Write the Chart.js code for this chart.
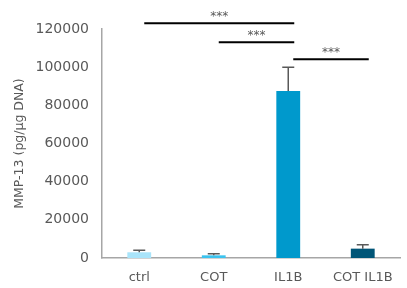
<!DOCTYPE html>
<html>
<head>
<meta charset="utf-8">
<script src="https://cdn.jsdelivr.net/npm/chart.js@4.4.0/dist/chart.umd.min.js"></script>
<style>
  html, body { margin: 0; padding: 0; background: #fff; }
  #wrap { width: 407px; height: 288px; }
</style>
</head>
<body>
<div id="wrap"><canvas id="chart" width="407" height="288"></canvas></div>
<script>
// Data
const groups = ['ctrl', 'COT', 'IL1B', 'COT IL1B'];
const means = [3000, 1400, 87500, 4900];
const errors = [1000, 800, 12500, 2100];
const barColors = ['#a9e4fa', '#3bc3ef', '#0099cc', '#005577'];
const yTicks = [0, 20000, 40000, 60000, 80000, 100000, 120000];

// significance brackets: from group, to group, height (axis units), label
const sigFrom = [0, 1, 2];
const sigTo = [2, 2, 3];
const sigHeight = [123000, 113000, 104100];
const sigLabel = ['***', '***', '***'];

const textGrey = '#595959';
const axisGrey = '#a6a6a6';
const fontFamily = '"DejaVu Sans", sans-serif';

// error bars, upward only
const errorBarPlugin = {
  id: 'errorBars',
  afterDatasetsDraw(chart) {
    const ctx = chart.ctx;
    const yScale = chart.scales.y;
    const meta = chart.getDatasetMeta(0);
    ctx.save();
    ctx.strokeStyle = textGrey;
    ctx.lineWidth = 1.5;
    meta.data.forEach((bar, i) => {
      const yTop = yScale.getPixelForValue(means[i] + errors[i]);
      const yBase = yScale.getPixelForValue(means[i]);
      ctx.beginPath();
      ctx.moveTo(bar.x, yBase);
      ctx.lineTo(bar.x, yTop);
      ctx.moveTo(bar.x - 6, yTop);
      ctx.lineTo(bar.x + 6, yTop);
      ctx.stroke();
    });
    ctx.restore();
  }
};

// significance lines with stars
const sigPlugin = {
  id: 'sigLines',
  afterDraw(chart) {
    const ctx = chart.ctx;
    const xScale = chart.scales.x;
    const yScale = chart.scales.y;
    ctx.save();
    sigFrom.forEach((f, i) => {
      const x1 = xScale.getPixelForValue(f) + 5;
      const x2 = xScale.getPixelForValue(sigTo[i]) + 6;
      const y = yScale.getPixelForValue(sigHeight[i]);
      ctx.strokeStyle = '#000';
      ctx.lineWidth = 2;
      ctx.beginPath();
      ctx.moveTo(x1, y);
      ctx.lineTo(x2, y);
      ctx.stroke();
      ctx.fillStyle = textGrey;
      ctx.font = '12px ' + fontFamily;
      ctx.textAlign = 'center';
      ctx.textBaseline = 'bottom';
      ctx.fillText(sigLabel[i], (x1 + x2) / 2, y);
    });
    ctx.restore();
  }
};

new Chart(document.getElementById('chart'), {
  type: 'bar',
  data: {
    labels: groups,
    datasets: [{
      data: means,
      backgroundColor: barColors,
      borderWidth: 0,
      categoryPercentage: 1,
      barPercentage: 0.32
    }]
  },
  options: {
    responsive: false,
    animation: false,
    events: [],
    layout: { padding: { top: 29, right: 7, left: 0, bottom: 0 } },
    plugins: {
      legend: { display: false },
      tooltip: { enabled: false }
    },
    scales: {
      x: {
        grid: { display: false, drawTicks: false },
        border: { color: axisGrey, width: 1.5 },
        ticks: { color: textGrey, font: { family: fontFamily, size: 13 }, padding: 12 },
        afterFit: s => { s.height = 30; }
      },
      y: {
        min: 0,
        max: 120000,
        afterBuildTicks: s => { s.ticks = yTicks.map(v => ({ value: v })); },
        grid: { display: false, drawOnChartArea: false, drawTicks: true, tickLength: 5, color: axisGrey, lineWidth: 1.5 },
        border: { color: axisGrey, width: 1.5 },
        ticks: {
          color: textGrey,
          font: { family: fontFamily, size: 14 },
          padding: 8,
          callback: v => String(v)
        },
        title: {
          display: true,
          text: 'MMP-13 (pg/µg DNA)',
          color: textGrey,
          font: { family: fontFamily, size: 12.5 },
          padding: { top: 12, bottom: 0 }
        },
        afterFit: s => { s.width = 102; }
      }
    }
  },
  plugins: [errorBarPlugin, sigPlugin]
});
</script>
</body>
</html>
